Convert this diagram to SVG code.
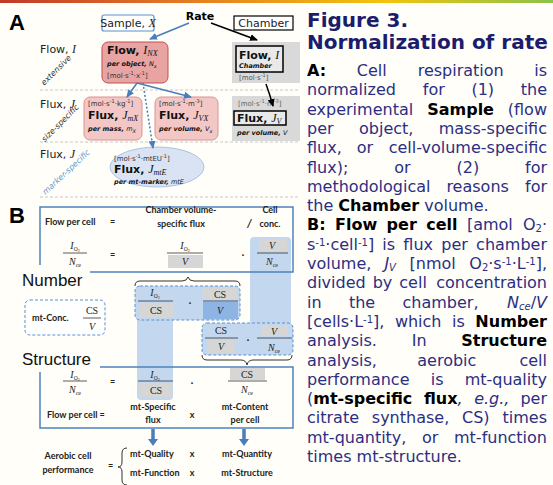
<svg xmlns="http://www.w3.org/2000/svg" width="553" height="485" viewBox="0 0 553 485">
<style>
.v{font-family:"DejaVu Sans",Verdana,sans-serif}
.ser{font-family:"Liberation Serif","Times New Roman",serif;font-style:italic}
.lab{font-family:"DejaVu Sans",Verdana,sans-serif;font-size:11px;fill:#222}
.nb{font-family:"DejaVu Sans",Verdana,sans-serif;font-size:11px;font-weight:bold;fill:#111}
.un{font-family:"DejaVu Sans",Verdana,sans-serif;font-size:7px;fill:#333}
.bi{font-family:"DejaVu Sans",Verdana,sans-serif;font-size:6.5px;font-weight:bold;font-style:italic;fill:#111}
.rot{font-family:"DejaVu Sans",Verdana,sans-serif;font-size:8px;font-style:italic;fill:#333;text-anchor:middle}
.sep{stroke:#c8c8c8;stroke-width:1;stroke-dasharray:3,2}
.body{font-family:"DejaVu Sans",Verdana,sans-serif;font-size:16px;fill:#2b2e83}
.bk{font-weight:bold;fill:#000}
.ttl{font-family:"DejaVu Sans",Verdana,sans-serif;font-size:20px;font-weight:bold;fill:#1c1c6e}
.cb{font-family:Lato,"Liberation Sans",sans-serif;font-size:9px;font-weight:bold;fill:#222}
.cbm{font-family:Lato,"Liberation Sans",sans-serif;font-size:9px;font-weight:bold;fill:#222;text-anchor:middle}
.f{font-family:"Liberation Serif","Times New Roman",serif;font-size:10px;fill:#222;text-anchor:middle}
.fl{stroke:#333;stroke-width:0.8}
.g{fill:#d6d6d6}
.big{font-family:"Liberation Sans",Arial,sans-serif;font-size:17px;fill:#111}
.box{fill:none;stroke:#4f81bd;stroke-width:1.5}
.dbox{stroke:#5b8fd0;stroke-width:1;stroke-dasharray:3,2}
.col{fill:#c3d8ef}
.brace{fill:none;stroke:#333;stroke-width:1}
.ab{stroke:#4a7ebb;stroke-width:1.5;fill:none}
.ak{stroke:#000;stroke-width:1.5;fill:none}
.sb{font-size:10px;baseline-shift:-2px}
.sp{font-size:10px;baseline-shift:4px}
</style>
<defs>
<linearGradient id="stripe" x1="0" y1="0" x2="1" y2="0">
<stop offset="0" stop-color="#c0392b"/><stop offset="0.35" stop-color="#e67e22"/><stop offset="0.7" stop-color="#f1c40f"/><stop offset="1" stop-color="#8bc34a"/>
</linearGradient>
<marker id="mb" markerWidth="8" markerHeight="8" refX="7" refY="4" orient="auto" markerUnits="userSpaceOnUse"><path d="M0,0.5 L8,4 L0,7.5 z" fill="#4a7ebb"/></marker>
<marker id="mk" markerWidth="8" markerHeight="8" refX="7" refY="4" orient="auto" markerUnits="userSpaceOnUse"><path d="M0,0.5 L8,4 L0,7.5 z" fill="#000"/></marker>
</defs>
<rect width="553" height="485" fill="#fffef8"/>
<rect width="553" height="3" fill="url(#stripe)"/>

<!-- Panel A -->
<text x="9" y="30" font-family="Liberation Sans,Arial,sans-serif" font-size="22" font-weight="bold">A</text>
<g id="separators">
<line class="sep" x1="40" y1="90" x2="300" y2="90"/>
<line class="sep" x1="40" y1="142" x2="300" y2="142"/>
<line class="sep" x1="40" y1="197" x2="300" y2="197"/>
</g>
<g id="rowlabels">
<text class="lab" x="40" y="53">Flow, <tspan class="ser" font-size="12">I</tspan></text>
<text class="lab" x="40" y="108">Flux, <tspan class="ser" font-size="12">J</tspan></text>
<text class="lab" x="40" y="158">Flux, <tspan class="ser" font-size="12">J</tspan></text>
<text class="rot" transform="translate(58,72) rotate(-45)">extensive</text>
<text class="rot" transform="translate(62,125) rotate(-45)">size-specific</text>
<text class="rot" transform="translate(68,174) rotate(-43)" style="fill:#5b9bd5">marker-specific</text>
</g>
<g id="sample">
<rect x="102" y="15" width="52" height="16" rx="2" fill="#fff" stroke="#5b8fd0" stroke-width="1.2"/>
<text class="lab" x="128" y="27" text-anchor="middle">Sample, <tspan class="ser" font-size="12">X</tspan></text>
</g>
<g id="rate">
<text class="v" x="200" y="20" font-size="11" font-weight="bold" text-anchor="middle">Rate</text>
</g>
<g id="chamber">
<rect x="234" y="16" width="59" height="14" fill="#fff" stroke="#000" stroke-width="1.2"/>
<text class="lab" x="263.5" y="27" text-anchor="middle">Chamber</text>
</g>
<g id="flowNX">
<rect x="102" y="42" width="66" height="41" rx="6" fill="#e8a3a3" stroke="#c0504d" stroke-width="1"/>
<text class="nb" x="107" y="54">Flow, <tspan class="ser" font-weight="normal" font-size="12">I</tspan><tspan class="ser" font-weight="normal" font-size="8" dy="2">NX</tspan></text>
<text class="bi" x="107" y="66">per object, <tspan font-weight="normal">N</tspan><tspan font-weight="normal" font-size="5" dy="1.5">x</tspan></text>
<text class="un" x="107" y="78">[mol·s<tspan font-size="5" dy="-3">-1</tspan><tspan dy="3">·x</tspan><tspan font-size="5" dy="-3">-1</tspan><tspan dy="3">]</tspan></text>
</g>
<g id="flowChamber">
<rect x="232" y="42" width="68" height="41" fill="#d9d9d9"/>
<rect x="236" y="46" width="47" height="26" fill="#e9e9e9" stroke="#000" stroke-width="1.5"/>
<text class="nb" x="239" y="59">Flow, <tspan class="ser" font-weight="normal" font-size="12">I</tspan></text>
<text class="bi" x="239" y="68">Chamber</text>
<text class="un" x="239" y="80" style="fill:#555">[mol·s<tspan font-size="5" dy="-3">-1</tspan><tspan dy="3">]</tspan></text>
</g>
<g id="fluxMass">
<rect x="84" y="97" width="58" height="43" rx="6" fill="#f4c7c7" stroke="#d99494" stroke-width="1"/>
<text class="un" x="88" y="106">[mol·s<tspan font-size="5" dy="-3">-1</tspan><tspan dy="3">·kg</tspan><tspan font-size="5" dy="-3">-1</tspan><tspan dy="3">]</tspan></text>
<text class="nb" x="88" y="119">Flux, <tspan class="ser" font-weight="normal" font-size="12">J</tspan><tspan class="ser" font-weight="normal" font-size="8" dy="2">mX</tspan></text>
<text class="bi" x="88" y="131">per mass, <tspan font-weight="normal">m</tspan><tspan font-weight="normal" font-size="5" dy="1.5">X</tspan></text>
</g>
<g id="fluxVolume">
<rect x="155" y="97" width="63" height="43" rx="6" fill="#f4c7c7" stroke="#d99494" stroke-width="1"/>
<text class="un" x="159" y="106">[mol·s<tspan font-size="5" dy="-3">-1</tspan><tspan dy="3">·m</tspan><tspan font-size="5" dy="-3">-3</tspan><tspan dy="3">]</tspan></text>
<text class="nb" x="159" y="119">Flux, <tspan class="ser" font-weight="normal" font-size="12">J</tspan><tspan class="ser" font-weight="normal" font-size="8" dy="2">VX</tspan></text>
<text class="bi" x="159" y="131">per volume, <tspan font-weight="normal">V</tspan><tspan font-weight="normal" font-size="5" dy="1.5">x</tspan></text>
</g>
<g id="fluxChamber">
<rect x="232" y="96" width="68" height="45" fill="#d9d9d9"/>
<text class="un" x="238" y="106" style="fill:#666">[mol·s<tspan font-size="5" dy="-3">-1</tspan><tspan dy="3">·m</tspan><tspan font-size="5" dy="-3">-3</tspan><tspan dy="3">]</tspan></text>
<rect x="234" y="111" width="52" height="14" fill="#e9e9e9" stroke="#000" stroke-width="1.5"/>
<text class="nb" x="237" y="122">Flux, <tspan class="ser" font-weight="normal" font-size="12">J</tspan><tspan class="ser" font-weight="normal" font-size="8" dy="2">V</tspan></text>
<text class="bi" x="237" y="135">per volume, <tspan font-weight="normal">V</tspan></text>
</g>
<g id="fluxMarker">
<ellipse cx="157" cy="167" rx="47" ry="20" fill="#dae3f3" stroke="#a9c4e4" stroke-width="1"/>
<text class="un" x="114" y="161">[mol·s<tspan font-size="5" dy="-3">-1</tspan><tspan dy="3">·mtEU</tspan><tspan font-size="5" dy="-3">-1</tspan><tspan dy="3">]</tspan></text>
<text class="nb" x="114" y="173">Flux, <tspan class="ser" font-weight="normal" font-size="12">J</tspan><tspan class="ser" font-weight="normal" font-size="8" dy="2">mtE</tspan></text>
<text class="bi" x="114" y="184">per mt-marker, <tspan font-weight="normal">mtE</tspan></text>
</g>
<g id="connectors">
<path class="ab" d="M189,23 L150,39" marker-end="url(#mb)"/>
<path class="ak" d="M211,23 L257,40" marker-end="url(#mk)"/>
<path class="ab" d="M137,83 L127,97" marker-end="url(#mb)"/>
<path class="ab" d="M137,83 L191,97" marker-end="url(#mb)"/>
<path class="ab" d="M143,83 L153,148" stroke-dasharray="2,2" marker-end="url(#mb)"/>
<path class="ak" d="M266,84 Q270,95 273,106" marker-end="url(#mk)"/>
<line x1="153" y1="429" x2="153" y2="440" stroke="#4a7ebb" stroke-width="3.5"/>
<path d="M148,439 L158,439 L153,446 z" fill="#4a7ebb"/>
<line x1="244" y1="429" x2="244" y2="440" stroke="#4a7ebb" stroke-width="3.5"/>
<path d="M239,439 L249,439 L244,446 z" fill="#4a7ebb"/>
</g>

<!-- Panel B -->
<text x="9" y="223" font-family="Liberation Sans,Arial,sans-serif" font-size="22" font-weight="bold">B</text>
<rect class="col" x="250" y="237" width="41" height="90" rx="4"/>
<rect class="col" x="137" y="316" width="36" height="84" rx="4"/>
<path class="box" d="M90,272 H293 V207 H40 V265"/>
<path class="box" d="M100,367 H293 V428 H40 V372"/>
<text class="big" x="22" y="286">Number</text>
<text class="big" x="22" y="365">Structure</text>

<g id="eqTop">
<text class="cb" x="45" y="225">Flow per cell</text>
<text class="cb" x="110" y="225">=</text>
<text class="cbm" x="181" y="213">Chamber volume-</text>
<text class="cbm" x="181" y="227">specific flux</text>
<text x="247" y="227" font-family="Lato,Liberation Sans,sans-serif" font-size="11" font-weight="bold" font-style="italic" fill="#222">/</text>
<text class="cbm" x="270" y="213">Cell</text>
<text class="cbm" x="270" y="227">conc.</text>
<text class="f" x="75" y="249"><tspan font-style="italic">I</tspan><tspan font-size="5.5" dy="1.5">O</tspan><tspan font-size="4" dy="1">2</tspan></text>
<line class="fl" x1="63" y1="253" x2="87" y2="253"/>
<text class="f" x="75" y="265"><tspan font-style="italic">N</tspan><tspan font-size="6" dy="1.5">ce</tspan></text>
<text class="cb" x="110" y="258">=</text>
<text class="f" x="185" y="249"><tspan font-style="italic">I</tspan><tspan font-size="5.5" dy="1.5">O</tspan><tspan font-size="4" dy="1">2</tspan></text>
<line class="fl" x1="167" y1="253" x2="203" y2="253"/>
<rect class="g" x="168" y="255" width="35" height="13"/>
<text class="f" x="185" y="265" font-style="italic">V</text>
<text class="cbm" x="243" y="258">·</text>
<rect class="g" x="259" y="239" width="28" height="12"/>
<text class="f" x="272" y="249" font-style="italic">V</text>
<line class="fl" x1="257" y1="253" x2="288" y2="253"/>
<text class="f" x="272" y="265"><tspan font-style="italic">N</tspan><tspan font-size="6" dy="1.5">ce</tspan></text>
</g>

<path class="brace" d="M135,286 Q135,281 140,281 L182,281 Q187,281 188,277 Q189,281 194,281 L235,281 Q240,281 240,286"/>

<g id="box1">
<rect class="dbox" x="135" y="286" width="105" height="34" rx="5" fill="#c3d8ef"/>
<text class="f" x="155" y="296"><tspan font-style="italic">I</tspan><tspan font-size="5.5" dy="1.5">O</tspan><tspan font-size="4" dy="1">2</tspan></text>
<line class="fl" x1="138" y1="301" x2="173" y2="301"/>
<rect class="g" x="140" y="303" width="33" height="14"/>
<text class="f" x="156" y="314">CS</text>
<text class="cbm" x="190" y="306">·</text>
<rect class="g" x="203" y="287" width="34" height="13"/>
<text class="f" x="220" y="298">CS</text>
<line class="fl" x1="203" y1="301" x2="238" y2="301"/>
<rect x="203" y="302" width="35" height="17" fill="#8db4e2"/>
<text class="f" x="220" y="314" font-style="italic">V</text>
</g>

<g id="box3">
<rect class="dbox" x="25" y="300" width="80" height="35" rx="5" fill="#fff"/>
<text class="cb" x="32" y="321">mt-Conc.</text>
<text class="f" x="92" y="314">CS</text>
<line class="fl" x1="83" y1="318" x2="101" y2="318"/>
<text class="f" x="92" y="330" font-style="italic">V</text>
</g>

<g id="box2">
<rect class="dbox" x="202" y="323" width="91" height="32" rx="5" fill="#c3d8ef"/>
<text class="f" x="221" y="334">CS</text>
<line class="fl" x1="205" y1="338" x2="238" y2="338"/>
<rect class="g" x="207" y="340" width="28" height="13"/>
<text class="f" x="221" y="350" font-style="italic">V</text>
<text class="cbm" x="248" y="343">·</text>
<rect class="g" x="262" y="325" width="26" height="11"/>
<text class="f" x="274" y="335" font-style="italic">V</text>
<line class="fl" x1="257" y1="338" x2="292" y2="338"/>
<text class="f" x="274" y="351"><tspan font-style="italic">N</tspan><tspan font-size="6" dy="1.5">ce</tspan></text>
</g>

<path class="brace" d="M202,355 Q202,360 207,360 L241,360 Q246,360 247,365 Q248,360 253,360 L287,360 Q292,360 292,355"/>

<g id="eqBottom">
<text class="f" x="75" y="378"><tspan font-style="italic">I</tspan><tspan font-size="5.5" dy="1.5">O</tspan><tspan font-size="4" dy="1">2</tspan></text>
<line class="fl" x1="63" y1="381" x2="87" y2="381"/>
<text class="f" x="75" y="393"><tspan font-style="italic">N</tspan><tspan font-size="6" dy="1.5">ce</tspan></text>
<text class="cb" x="110" y="385">=</text>
<text class="f" x="155" y="378"><tspan font-style="italic">I</tspan><tspan font-size="5.5" dy="1.5">O</tspan><tspan font-size="4" dy="1">2</tspan></text>
<line class="fl" x1="138" y1="381" x2="173" y2="381"/>
<rect class="g" x="140" y="383" width="32" height="14"/>
<text class="f" x="156" y="394">CS</text>
<text class="cbm" x="192" y="386">·</text>
<rect class="g" x="230" y="368" width="35" height="12"/>
<text class="f" x="247" y="378">CS</text>
<line class="fl" x1="228" y1="381" x2="267" y2="381"/>
<text class="f" x="247" y="393"><tspan font-style="italic">N</tspan><tspan font-size="6" dy="1.5">ce</tspan></text>
<text class="cb" x="47" y="418">Flow per cell  =</text>
<text class="cbm" x="153" y="410">mt-Specific</text>
<text class="cbm" x="153" y="423">flux</text>
<text class="cbm" x="192" y="418">x</text>
<text class="cbm" x="245" y="410">mt-Content</text>
<text class="cbm" x="245" y="423">per cell</text>
</g>

<g id="performance">
<text class="cbm" x="68" y="459">Aerobic cell</text>
<text class="cbm" x="68" y="473">performance</text>
<text class="cb" x="108" y="469">=</text>
<path class="brace" d="M127,448 Q122,448 122,453 L122,462 Q122,467 118,467 Q122,467 122,472 L122,480 Q122,485 127,485"/>
<text class="cb" x="130" y="457">mt-Quality</text>
<text class="cbm" x="192" y="457">x</text>
<text class="cbm" x="247" y="457">mt-Quantity</text>
<text class="cb" x="130" y="476">mt-Function</text>
<text class="cbm" x="192" y="476">x</text>
<text class="cbm" x="247" y="476">mt-Structure</text>
</g>

<!-- Caption -->
<g id="caption">
<text class="ttl" x="307" y="27">Figure 3.</text>
<text class="ttl" x="307" y="49">Normalization of rate</text>
<text class="body" y="76"><tspan x="307" class="bk">A:</tspan><tspan x="356.8">Cell</tspan><tspan x="417.7">respiration</tspan><tspan x="547" text-anchor="end">is</tspan></text>
<text class="body" y="95.3"><tspan x="307">normalized</tspan><tspan x="422.8">for</tspan><tspan x="471.4">(1)</tspan><tspan x="547" text-anchor="end">the</tspan></text>
<text class="body" y="114.6"><tspan x="307">experimental</tspan><tspan x="427.2" class="bk">Sample</tspan><tspan x="547" text-anchor="end">(flow</tspan></text>
<text class="body" y="133.9"><tspan x="307">per</tspan><tspan x="359">object,</tspan><tspan x="547" text-anchor="end">mass-specific</tspan></text>
<text class="body" y="153.2"><tspan x="307">flux,</tspan><tspan x="356.8">or</tspan><tspan x="547" text-anchor="end">cell-volume-specific</tspan></text>
<text class="body" y="172.5"><tspan x="307">flux);</tspan><tspan x="394.2">or</tspan><tspan x="456.5">(2)</tspan><tspan x="547" text-anchor="end">for</tspan></text>
<text class="body" y="191.8"><tspan x="307">methodological</tspan><tspan x="446.4">reasons</tspan><tspan x="547" text-anchor="end">for</tspan></text>
<text class="body" x="307" y="211.1">the <tspan class="bk">Chamber</tspan> volume.</text>
<text class="body" y="230.4"><tspan x="307" class="bk">B:</tspan><tspan x="335" class="bk">Flow</tspan><tspan x="386.6" class="bk">per</tspan><tspan x="426.2" class="bk">cell</tspan><tspan x="466.9">[amol</tspan><tspan x="547" text-anchor="end">O<tspan class="sb">2</tspan>·</tspan></text>
<text class="body" y="249.7"><tspan x="307">s<tspan class="sp">-1</tspan>·cell<tspan class="sp">-1</tspan>]</tspan><tspan x="382.3">is</tspan><tspan x="403.3">flux</tspan><tspan x="441.3">per</tspan><tspan x="547" text-anchor="end">chamber</tspan></text>
<text class="body" y="269"><tspan x="307">volume,</tspan><tspan x="384.4" font-style="italic">J<tspan class="sb">V</tspan></tspan><tspan x="409.6">[nmol</tspan><tspan x="547" text-anchor="end">O<tspan class="sb">2</tspan>·s<tspan class="sp">-1</tspan>·L<tspan class="sp">-1</tspan>],</tspan></text>
<text class="body" y="288.3"><tspan x="307">divided</tspan><tspan x="372.7">by</tspan><tspan x="399.3">cell</tspan><tspan x="547" text-anchor="end">concentration</tspan></text>
<text class="body" y="307.6"><tspan x="307">in</tspan><tspan x="348.9">the</tspan><tspan x="402.5">chamber,</tspan><tspan x="547" text-anchor="end"><tspan font-style="italic">N</tspan><tspan class="sb" font-style="italic">ce</tspan>/<tspan font-style="italic">V</tspan></tspan></text>
<text class="body" y="326.9"><tspan x="307">[cells·L<tspan class="sp">-1</tspan>],</tspan><tspan x="394.9">which</tspan><tspan x="452">is</tspan><tspan x="547" text-anchor="end" class="bk">Number</tspan></text>
<text class="body" y="346.2"><tspan x="307">analysis.</tspan><tspan x="411.7">In</tspan><tspan x="547" text-anchor="end" class="bk">Structure</tspan></text>
<text class="body" y="365.5"><tspan x="307">analysis,</tspan><tspan x="417.3">aerobic</tspan><tspan x="547" text-anchor="end">cell</tspan></text>
<text class="body" y="384.8"><tspan x="307">performance</tspan><tspan x="430.8">is</tspan><tspan x="547" text-anchor="end">mt-quality</tspan></text>
<text class="body" y="404.1"><tspan x="307">(<tspan class="bk">mt-specific</tspan></tspan><tspan x="423.9"><tspan class="bk">flux</tspan><tspan font-style="italic">,</tspan></tspan><tspan x="474.2" font-style="italic">e.g.,</tspan><tspan x="547" text-anchor="end">per</tspan></text>
<text class="body" y="423.4"><tspan x="307">citrate</tspan><tspan x="371.8">synthase,</tspan><tspan x="462">CS)</tspan><tspan x="547" text-anchor="end">times</tspan></text>
<text class="body" y="442.7"><tspan x="307">mt-quantity,</tspan><tspan x="422">or</tspan><tspan x="547" text-anchor="end">mt-function</tspan></text>
<text class="body" x="307" y="462">times mt-structure.</text>
</g>
</svg>
